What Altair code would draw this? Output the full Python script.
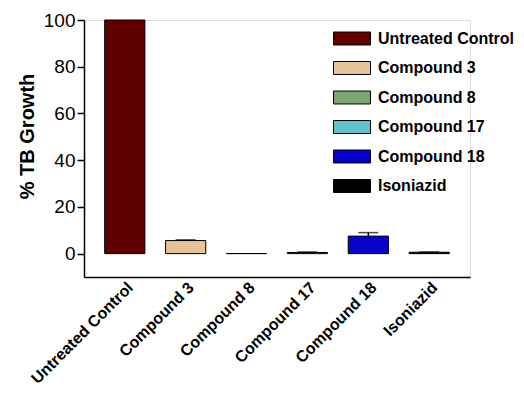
import altair as alt
import pandas as pd

categories = ["Untreated Control", "Compound 3", "Compound 8", "Compound 17", "Compound 18", "Isoniazid"]
values = [100, 5.6, 0.05, 0.5, 7.5, 0.6]
errors = [0, 0.3, 0, 0.2, 1.5, 0.1]
colors = ["#600000", "#E6C398", "#7DA66E", "#62C4CA", "#0A00CC", "#000000"]

df = pd.DataFrame({"cat": categories, "val": values, "err": errors})
df["top"] = df["val"] + df["err"]
df_err = df[df["err"] > 0]

x = alt.X("cat:N", sort=categories, title=None,
          scale=alt.Scale(paddingInner=0.34, paddingOuter=0.34),
          axis=alt.Axis(labelAngle=-45, labelFontSize=16, labelFontWeight="bold",
                        labelFont="Liberation Sans", labelColor="black", labelPadding=2,
                        ticks=False, domainColor="black", domainWidth=1.5))

yscale = alt.Scale(domain=[-10, 100], nice=False, zero=False)

bars = alt.Chart(df).mark_bar(stroke="black", strokeWidth=1).encode(
    x=x,
    y=alt.Y("val:Q", scale=yscale, title="% TB Growth",
            axis=alt.Axis(values=[0, 20, 40, 60, 80, 100], labelFontSize=19,
                          labelFont="Liberation Sans", labelColor="black",
                          titleFont="Liberation Sans", titleFontSize=20, titleFontWeight="bold",
                          titleColor="black", titlePadding=6, titleY=116,
                          tickSize=7, tickWidth=1.5, tickColor="black", labelPadding=2,
                          domainColor="black", domainWidth=1.5, grid=False)),
    y2=alt.Y2(datum=0),
    color=alt.Color("cat:N", sort=categories,
                    scale=alt.Scale(domain=categories, range=colors),
                    legend=alt.Legend(title=None, orient="none", legendX=249, legendY=-0.5,
                                      symbolType="M-1,-0.35H1V0.35H-1Z", symbolSize=1369,
                                      symbolStrokeColor="black", symbolStrokeWidth=1,
                                      symbolOpacity=1,
                                      labelFontSize=16, labelFontWeight="bold",
                                      labelFont="Liberation Sans", labelColor="black",
                                      labelOffset=7, rowPadding=1.5, padding=0,
                                      labelLimit=300)),
)

rules = alt.Chart(df_err).mark_rule(color="black", strokeWidth=1.5).encode(
    x=alt.X("cat:N", sort=categories),
    y=alt.Y("val:Q", scale=yscale),
    y2="top:Q",
)

caps = alt.Chart(df_err).mark_tick(color="black", thickness=1.5, size=20).encode(
    x=alt.X("cat:N", sort=categories),
    y=alt.Y("top:Q", scale=yscale),
)

chart = alt.layer(bars, rules, caps).properties(
    width=386, height=257,
    autosize=alt.AutoSizeParams(type="none"),
    padding={"left": 76, "top": 12, "right": 46, "bottom": 109},
).configure_view(stroke=None).configure(background="white")

chart.save("out.html", embed_options={"renderer": "svg", "actions": False})
